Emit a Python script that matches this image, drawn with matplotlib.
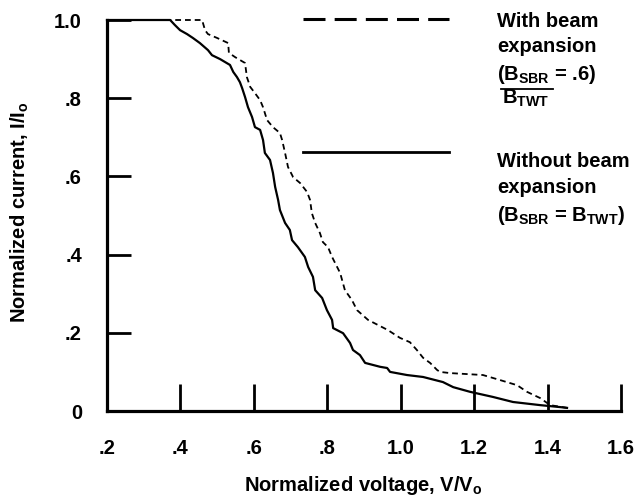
import matplotlib
matplotlib.use("Agg")
import matplotlib.pyplot as plt
from matplotlib.lines import Line2D

# Without beam expansion (solid)
v_solid = [0.2, 0.372, 0.385, 0.399, 0.418, 0.434, 0.453, 0.475, 0.486, 0.508, 0.535,
           0.544, 0.554, 0.562, 0.568, 0.576, 0.584, 0.595, 0.603, 0.617, 0.625, 0.630,
           0.644, 0.652, 0.658, 0.666, 0.671, 0.685, 0.698, 0.704, 0.720, 0.739, 0.748,
           0.761, 0.767, 0.786, 0.799, 0.813, 0.816, 0.843, 0.862, 0.870, 0.889, 0.903,
           0.944, 0.963, 0.971, 1.017, 1.061, 1.115, 1.143, 1.189, 1.251, 1.306, 1.380,
           1.434, 1.453]
i_solid = [1.0, 1.0, 0.987, 0.974, 0.964, 0.954, 0.941, 0.923, 0.910, 0.900, 0.885,
           0.867, 0.854, 0.841, 0.826, 0.803, 0.777, 0.752, 0.726, 0.719, 0.693, 0.660,
           0.642, 0.609, 0.573, 0.540, 0.514, 0.481, 0.463, 0.437, 0.419, 0.394, 0.368,
           0.343, 0.309, 0.289, 0.258, 0.233, 0.212, 0.199, 0.174, 0.156, 0.143, 0.123,
           0.113, 0.110, 0.100, 0.092, 0.087, 0.074, 0.061, 0.049, 0.036, 0.023, 0.015,
           0.010, 0.008]

# With beam expansion (dashed)
v_dash = [0.2, 0.459, 0.467, 0.475, 0.500, 0.530, 0.532, 0.549, 0.576, 0.581, 0.590,
          0.603, 0.617, 0.625, 0.636, 0.652, 0.671, 0.677, 0.685, 0.693, 0.707, 0.726,
          0.745, 0.753, 0.758, 0.767, 0.780, 0.788, 0.802, 0.813, 0.835, 0.848, 0.867,
          0.881, 0.911, 0.938, 0.965, 0.998, 1.025, 1.044, 1.061, 1.080, 1.099, 1.107,
          1.134, 1.224, 1.271, 1.317, 1.344, 1.380, 1.407, 1.453]
i_dash = [1.0, 1.0, 0.974, 0.964, 0.954, 0.941, 0.916, 0.905, 0.890, 0.854, 0.829,
          0.813, 0.795, 0.777, 0.744, 0.726, 0.711, 0.693, 0.660, 0.624, 0.598, 0.583,
          0.560, 0.540, 0.506, 0.481, 0.455, 0.432, 0.419, 0.394, 0.353, 0.309, 0.284,
          0.258, 0.233, 0.220, 0.207, 0.187, 0.176, 0.156, 0.136, 0.123, 0.105, 0.100,
          0.097, 0.092, 0.079, 0.066, 0.049, 0.033, 0.015, 0.008]

x_ticks = [0.2, 0.4, 0.6, 0.8, 1.0, 1.2, 1.4, 1.6]
x_labels = ['.2', '.4', '.6', '.8', '1.0', '1.2', '1.4', '1.6']
y_ticks = [0, 0.2, 0.4, 0.6, 0.8, 1.0]
y_labels = ['0', '.2', '.4', '.6', '.8', '1.0']

plt.rcParams['font.family'] = ['Liberation Sans', 'DejaVu Sans']
plt.rcParams['font.weight'] = 'bold'
plt.rcParams['mathtext.fontset'] = 'custom'
plt.rcParams['mathtext.rm'] = 'Liberation Sans:bold'
plt.rcParams['mathtext.it'] = 'Liberation Sans:bold'
plt.rcParams['mathtext.bf'] = 'Liberation Sans:bold'
plt.rcParams['mathtext.sf'] = 'Liberation Sans:bold'

W, H = 638, 498
fig = plt.figure(figsize=(W / 100, H / 100), dpi=100)
ax = fig.add_axes([107 / W, 1 - 411 / H, (621 - 107) / W, (411 - 20) / H])

ax.plot(v_solid, i_solid, color='black', lw=1.6, solid_joinstyle='round', clip_on=False)
ax.plot(v_dash, i_dash, color='black', lw=1.3, linestyle=(0, (3.2, 2.2)), clip_on=False)

ax.set_xlim(0.2, 1.6)
ax.set_ylim(0, 1.0)
for s in ['top', 'right']:
    ax.spines[s].set_visible(False)
for s in ['left', 'bottom']:
    ax.spines[s].set_linewidth(2.3)

fs = 14.5
ax.set_xticks(x_ticks)
ax.set_xticklabels(x_labels)
ax.set_yticks(y_ticks)
ax.set_yticklabels(y_labels)
ax.tick_params(axis='x', direction='in', length=19.5, width=2.0, pad=20, labelsize=fs)
ax.tick_params(axis='y', direction='in', length=17, width=2.0, pad=18, labelsize=fs)
for lab in ax.get_xticklabels() + ax.get_yticklabels():
    lab.set_fontweight('bold')

fig.text(20 / W, 1 - 212 / H, r'Normalized current, I/I$_\mathrm{o}$', rotation=90,
         ha='center', va='center', fontsize=fs, fontweight='bold')
fig.text(363 / W, 1 - 491 / H, r'Normalized voltage, V/V$_\mathrm{o}$',
         ha='center', va='baseline', fontsize=fs, fontweight='bold')

# legend lines
fig.add_artist(Line2D([303 / W, 449 / W], [1 - 19 / H, 1 - 19 / H], color='black',
                      lw=2.2, linestyle=(0, (7.2, 3.0)), transform=fig.transFigure))
fig.add_artist(Line2D([303 / W, 449 / W], [1 - 152 / H, 1 - 152 / H], color='black',
                      lw=2.0, transform=fig.transFigure))

tx = 497 / W
legend_rows = [
    ('With beam', 27),
    ('expansion', 52),
    (r'(B$_\mathrm{SBR}$ = .6)', 80),
    ('Without beam', 167),
    ('expansion', 193),
    (r'(B$_\mathrm{SBR}$ = B$_\mathrm{TWT}$)', 221),
]
for txt, yb in legend_rows:
    fig.text(tx, 1 - yb / H, txt, ha='left', va='baseline', fontsize=fs, fontweight='bold')
fig.text(502 / W, 1 - 104 / H, r'B$_\mathrm{TWT}$', ha='left', va='baseline',
         fontsize=fs, fontweight='bold')
fig.add_artist(Line2D([501 / W, 553 / W], [1 - 89 / H, 1 - 89 / H], color='black',
                      lw=1.3, transform=fig.transFigure))

fig.savefig('out.png', dpi=100)
